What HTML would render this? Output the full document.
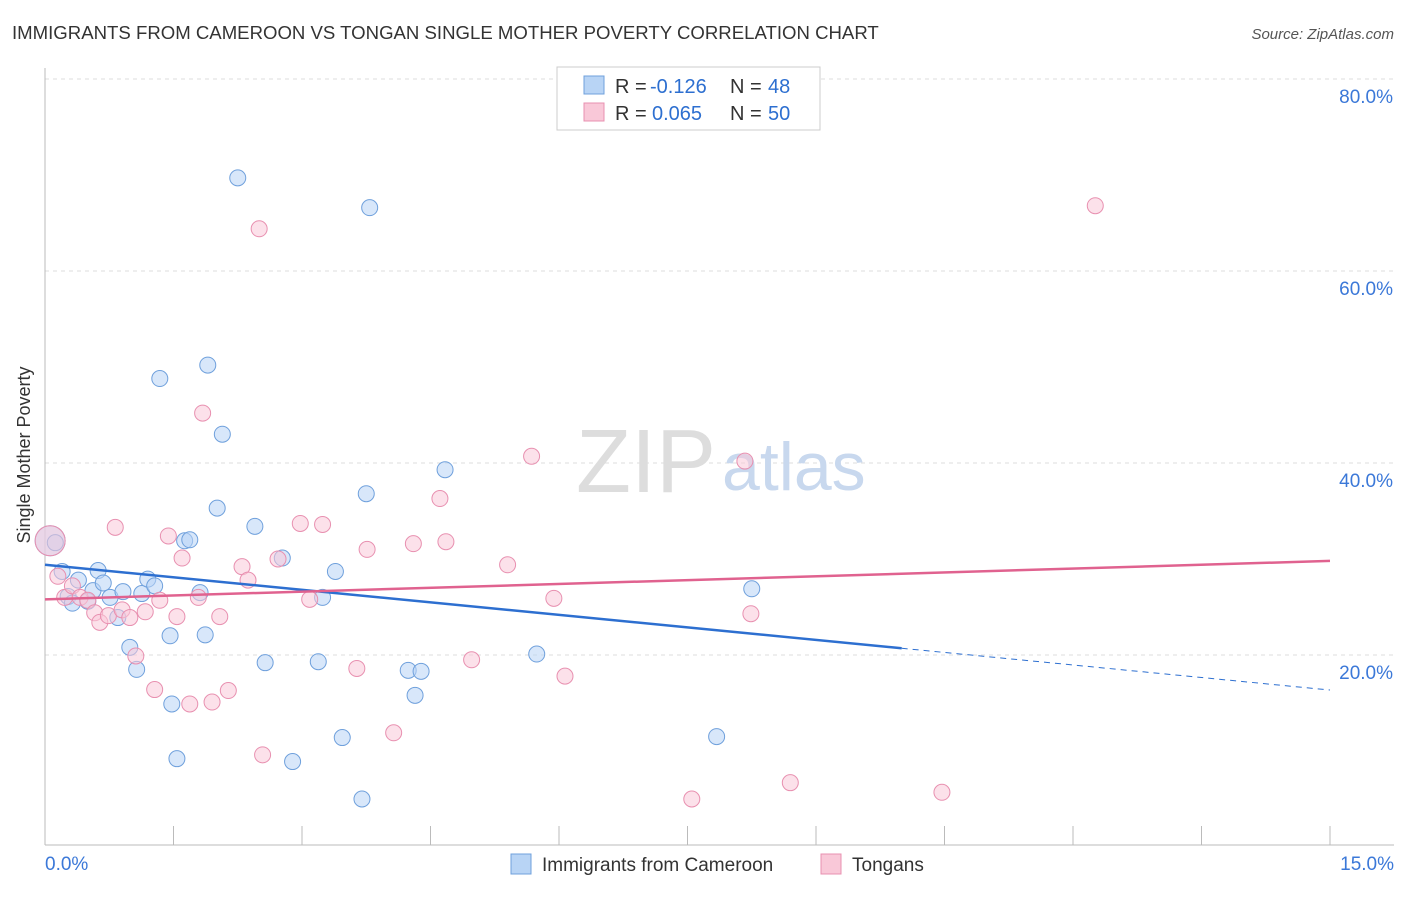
<!DOCTYPE html>
<html><head><meta charset="utf-8"><style>
body{margin:0;background:#fff;font-family:"Liberation Sans",sans-serif;}
svg text{font-family:"Liberation Sans",sans-serif;}
</style></head><body>
<svg id="chart" width="1406" height="892" xmlns="http://www.w3.org/2000/svg">
<text x="12" y="39" font-size="18.6" fill="#333">IMMIGRANTS FROM CAMEROON VS TONGAN SINGLE MOTHER POVERTY CORRELATION CHART</text>
<text x="1394" y="39" font-size="15" fill="#555" font-style="italic" text-anchor="end">Source: ZipAtlas.com</text>
<text x="30" y="455" font-size="18" fill="#333" text-anchor="middle" transform="rotate(-90 30 455)">Single Mother Poverty</text>
<g id="grid"></g>
<text x="716" y="492" font-size="90" fill="#ddd" font-family="Liberation Serif" text-anchor="end">ZIP</text>
<text x="722" y="490" font-size="68" fill="#c8d8ee">atlas</text>
<g id="marks"></g>
<g>
<rect x="557" y="67" width="263" height="63" fill="#fff" stroke="#ccc"/>
<rect x="584" y="76" width="20" height="18" fill="#b8d4f5" stroke="#6fa0dc"/>
<rect x="584" y="103" width="20" height="18" fill="#f9c8d8" stroke="#e890b0"/>
<text x="615" y="93" font-size="20" fill="#333">R =</text>
<text x="650" y="93" font-size="20" fill="#2d6fd0">-0.126</text>
<text x="730" y="93" font-size="20" fill="#333">N =</text>
<text x="768" y="93" font-size="20" fill="#2d6fd0">48</text>
<text x="615" y="120" font-size="20" fill="#333">R =</text>
<text x="652" y="120" font-size="20" fill="#2d6fd0">0.065</text>
<text x="730" y="120" font-size="20" fill="#333">N =</text>
<text x="768" y="120" font-size="20" fill="#2d6fd0">50</text>
</g>
<g>
<rect x="511" y="854" width="20" height="20" fill="#b8d4f5" stroke="#6fa0dc"/>
<text x="542" y="871" font-size="19" fill="#333">Immigrants from Cameroon</text>
<rect x="821" y="854" width="20" height="20" fill="#f9c8d8" stroke="#e890b0"/>
<text x="852" y="871" font-size="19" fill="#333">Tongans</text>
</g>
</svg>
<script>
const blueX=[0.06,0.12,0.20,0.27,0.32,0.39,0.50,0.56,0.62,0.68,0.76,0.85,0.91,0.99,1.07,1.13,1.20,1.28,1.34,1.46,1.48,1.54,1.63,1.69,1.81,1.87,1.90,2.01,2.07,2.25,2.45,2.57,2.77,2.89,3.19,3.24,3.39,3.47,3.70,3.75,3.79,4.24,4.32,4.39,4.67,5.74,7.84,8.25];
const blueY=[31.9,31.7,28.7,26.1,25.4,27.8,25.6,26.7,28.8,27.5,26.0,23.9,26.6,20.8,18.5,26.4,27.9,27.2,48.8,22.0,14.9,9.2,31.9,32.0,26.5,22.1,50.2,35.3,43.0,69.7,33.4,19.2,30.1,8.9,19.3,26.0,28.7,11.4,5.0,36.8,66.6,18.4,15.8,18.3,39.3,20.1,11.5,26.9];
const pinkX=[0.06,0.15,0.23,0.32,0.41,0.50,0.58,0.64,0.74,0.82,0.90,0.99,1.06,1.17,1.28,1.34,1.44,1.54,1.60,1.69,1.79,1.84,1.95,2.04,2.14,2.30,2.37,2.50,2.54,2.72,2.98,3.09,3.24,3.64,3.76,4.07,4.30,4.61,4.68,4.98,5.40,5.68,5.94,6.07,7.55,8.17,8.24,8.70,10.47,12.26];
const pinkY=[31.9,28.2,26.0,27.2,26.0,25.7,24.4,23.4,24.1,33.3,24.7,23.9,19.9,24.5,16.4,25.7,32.4,24.0,30.1,14.9,26.0,45.2,15.1,24.0,16.3,29.2,27.8,64.4,9.6,30.0,33.7,25.8,33.6,18.6,31.0,11.9,31.6,36.3,31.8,19.5,29.4,40.7,25.9,17.8,5.0,40.2,24.3,6.7,5.7,66.8];
const blueTrend=[29.4,16.35];
const pinkTrend=[25.8,29.8];
const yTicks=[20,40,60,80];
const xTickLabels=["0.0%","15.0%"];
const X0=45,X1=1330,Y0=847,PY=9.6;
const sx=v=>X0+v*(X1-X0)/15, sy=v=>Y0-v*PY;
const NS="http://www.w3.org/2000/svg";
function mk(tag,attrs,parent){const e=document.createElementNS(NS,tag);for(const k in attrs)e.setAttribute(k,attrs[k]);parent.appendChild(e);return e;}
const grid=document.getElementById('grid'),marks=document.getElementById('marks');
yTicks.forEach(t=>{
 const l=mk('line',{x1:X0,x2:1394,y1:sy(t),y2:sy(t),stroke:'#ddd','stroke-dasharray':'4,4'},grid);
 
 
 const tx=mk('text',{x:1393,y:sy(t)+24,'font-size':19,fill:'#3b78d8','text-anchor':'end'},grid);tx.textContent=t.toFixed(1)+'%';
 
 
});
const ax=mk('line',{x1:X0,x2:1394,y1:845,y2:845,stroke:'#bbb'},grid);


const ay=mk('line',{x1:X0,x2:X0,y1:68,y2:845,stroke:'#bbb'},grid);


for(let i=0;i<=10;i++){const x=X0+i*(X1-X0)/10;const t=mk('line',{x1:x,x2:x,y1:826,y2:845,stroke:'#bbb'},grid);
 
 }
xTickLabels.forEach((s,i)=>{const t=mk('text',{x:i?1394:45,y:870,'font-size':19,fill:'#3b78d8','text-anchor':i?'end':'start'},grid);t.textContent=s;
 
 });
function pts(xs,ys,fill,stroke,name){xs.forEach((x,i)=>{const c=mk('circle',{cx:sx(x),cy:sy(ys[i]),r:i===0?15:8,fill:fill,stroke:stroke,'fill-opacity':0.55,'stroke-width':1},marks);
 
 });}
pts(blueX,blueY,'#b8d4f5','#6fa0dc','cameroon-point');
pts(pinkX,pinkY,'#f9c8d8','#e890b0','tongan-point');
const bEnd=10;const bAt=v=>blueTrend[0]+(blueTrend[1]-blueTrend[0])*v/15;
const b1=mk('line',{x1:sx(0),y1:sy(bAt(0)),x2:sx(bEnd),y2:sy(bAt(bEnd)),stroke:'#2d6fd0','stroke-width':2.5},marks);


const b2=mk('line',{x1:sx(bEnd),y1:sy(bAt(bEnd)),x2:sx(15),y2:sy(bAt(15)),stroke:'#2d6fd0','stroke-width':1,'stroke-dasharray':'6,5'},marks);


const p1=mk('line',{x1:sx(0),y1:sy(pinkTrend[0]),x2:sx(15),y2:sy(pinkTrend[1]),stroke:'#e0628f','stroke-width':2.5},marks);


</script>
</body></html>
